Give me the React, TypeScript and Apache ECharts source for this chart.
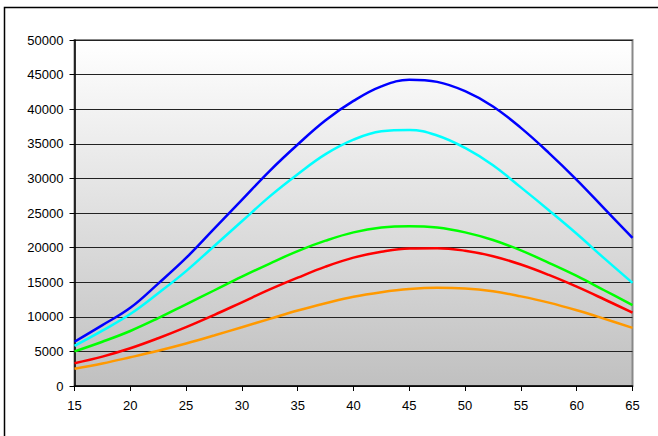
import React, { useEffect, useRef } from "react";
import * as echarts from "echarts";

const xValues = [15, 17.5, 20, 22.5, 25, 27.5, 30, 32.5, 35, 37.5, 40, 42.5, 45, 47.5, 50, 52.5, 55, 57.5, 60, 62.5, 65];
const blueValues = [6400, 8800, 11300, 14800, 18500, 22700, 26900, 31100, 34900, 38400, 41200, 43300, 44250, 43950, 42600, 40400, 37300, 33700, 29800, 25600, 21400];
const cyanValues = [5800, 8000, 10400, 13400, 16600, 20200, 23800, 27400, 30600, 33500, 35600, 36800, 37000, 36200, 34400, 31900, 28700, 25400, 22000, 18400, 14900];
const greenValues = [5000, 6400, 7950, 9800, 11800, 13800, 15800, 17700, 19500, 21000, 22200, 22900, 23100, 22900, 22200, 21100, 19600, 17800, 15900, 13800, 11700];
const redValues = [3300, 4250, 5450, 6900, 8500, 10250, 12100, 13950, 15650, 17250, 18550, 19400, 19880, 19920, 19550, 18750, 17550, 16050, 14350, 12500, 10600];
const orangeValues = [2500, 3250, 4150, 5100, 6150, 7300, 8500, 9700, 10900, 11950, 12900, 13550, 14000, 14180, 14100, 13700, 12950, 12050, 10950, 9700, 8400];

const seriesDefs = [
  { name: "Blue", color: "#0000FF", values: blueValues },
  { name: "Cyan", color: "#00FFFF", values: cyanValues },
  { name: "Green", color: "#00FF00", values: greenValues },
  { name: "Red", color: "#FF0000", values: redValues },
  { name: "Orange", color: "#FF9900", values: orangeValues },
];

const FONT = "'Liberation Sans', Arial, sans-serif";

export default function App() {
  const ref = useRef<HTMLDivElement>(null);
  useEffect(() => {
    document.body.style.margin = "0";
    const chart = echarts.init(ref.current!, null, { renderer: "svg" });
    chart.setOption({
      animation: false,
      backgroundColor: "#ffffff",
      graphic: [
        {
          type: "rect",
          shape: { x: 4.5, y: 7.5, width: 720, height: 520 },
          style: { fill: "none", stroke: "#000", lineWidth: 1.5 },
          silent: true,
          z: -1,
        },
      ],
      grid: {
        left: 74.5,
        right: 25.5,
        top: 40,
        bottom: 50,
        show: true,
        borderColor: "#888888",
        borderWidth: 2,
        backgroundColor: new echarts.graphic.LinearGradient(0, 0, 0, 1, [
          { offset: 0, color: "#ffffff" },
          { offset: 1, color: "#c0c0c0" },
        ]),
      },
      xAxis: {
        type: "value",
        min: 15,
        max: 65,
        interval: 5,
        axisLine: { show: true, onZero: false, lineStyle: { color: "#000", width: 1.5 } },
        axisTick: { show: true, length: 5, lineStyle: { color: "#000", width: 1 } },
        axisLabel: { color: "#000", fontSize: 13, fontFamily: FONT, margin: 13 },
        splitLine: { show: false },
      },
      yAxis: {
        type: "value",
        min: 0,
        max: 50000,
        interval: 5000,
        axisLine: { show: true, lineStyle: { color: "#000", width: 1.5 } },
        axisTick: { show: true, length: 5, lineStyle: { color: "#000", width: 1 } },
        axisLabel: {
          color: "#000",
          fontSize: 13,
          fontFamily: FONT,
          margin: 11,
          formatter: (v: number) => String(v),
        },
        splitLine: { show: true, lineStyle: { color: "#222", width: 1 } },
      },
      series: seriesDefs.map((s) => ({
        name: s.name,
        type: "line",
        smooth: 0.4,
        symbol: "none",
        data: xValues.map((x, i) => [x, s.values[i]]),
        lineStyle: { color: s.color, width: 2.5 },
        itemStyle: { color: s.color },
      })),
    });
    return () => chart.dispose();
  }, []);
  return <div ref={ref} style={{ width: 658, height: 436 }} />;
}
